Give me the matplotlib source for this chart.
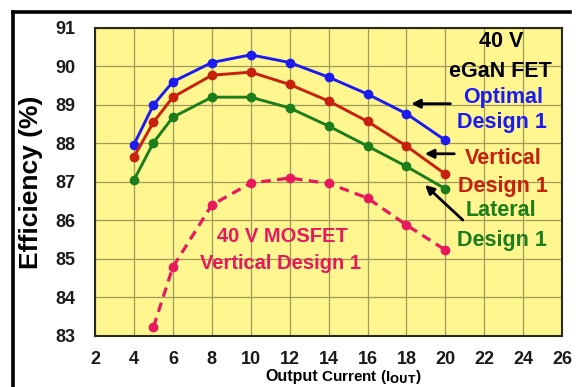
# efficiency vs output current, 40 V eGaN FET designs vs MOSFET
import matplotlib
matplotlib.use("Agg")
import matplotlib.pyplot as plt
from matplotlib.lines import Line2D

plt.rcParams["font.family"] = ["Liberation Sans", "DejaVu Sans"]
plt.rcParams["font.weight"] = "bold"

# ---------- data ----------
i_out = [4, 5, 6, 8, 10, 12, 14, 16, 18, 20]
eff_optimal = [87.97, 89.0, 89.6, 90.1, 90.3, 90.1, 89.72, 89.28, 88.77, 88.08]
eff_vertical = [87.65, 88.55, 89.2, 89.77, 89.85, 89.53, 89.1, 88.57, 87.93, 87.2]
eff_lateral = [87.05, 88.02, 88.68, 89.2, 89.2, 88.92, 88.45, 87.93, 87.4, 86.82]

i_mos = [5, 6, 8, 10, 12, 14, 16, 18, 20]
eff_mosfet = [83.23, 84.79, 86.4, 86.97, 87.1, 86.96, 86.58, 85.88, 85.23]

x_ticks = list(range(2, 27, 2))
y_ticks = list(range(83, 92))

BLUE = "#1c1cf0"
RED = "#c8200f"
GREEN = "#1b7d1b"
PINK = "#e8185f"

fig = plt.figure(figsize=(5.76, 3.87), dpi=100)
ax = fig.add_axes([0.165, 0.132, 0.811, 0.796])
ax.set_facecolor("#fff68f")

ax.plot(i_out, eff_optimal, color=BLUE, lw=2.1, marker="o", ms=6, zorder=4)
ax.plot(i_out, eff_vertical, color=RED, lw=2.1, marker="o", ms=6, zorder=4)
ax.plot(i_out, eff_lateral, color=GREEN, lw=2.1, marker="o", ms=6, zorder=4)
ax.plot(i_mos, eff_mosfet, color=PINK, lw=2.3, ls=(0, (3, 2)), marker="o",
        ms=6, zorder=4, clip_on=False)

ax.set_xlim(2, 26)
ax.set_ylim(83, 91)
ax.set_xticks(x_ticks)
ax.set_yticks(y_ticks)
ax.tick_params(length=0, labelsize=13, labelcolor="#1a1a1a")
ax.tick_params(axis="x", pad=11)
ax.tick_params(axis="y", pad=14)
for lab in ax.get_xticklabels() + ax.get_yticklabels():
    lab.set_fontweight("bold")
ax.grid(True, color="#9e9a5a", lw=0.9)
ax.set_axisbelow(True)
for s in ax.spines.values():
    s.set_linewidth(1.5)
    s.set_color("#2a2a1a")

ax.set_ylabel("Efficiency (%)", fontsize=19, fontweight="bold")
ax.yaxis.set_label_coords(-0.112, 0.5)

# x label with mixed sizes
fig.text(318 / 576, 1 - 377 / 387, "Output", fontsize=11.5, fontweight="bold",
         ha="right", va="center")
fig.text(321 / 576, 1 - 377 / 387, "Current (I$_{\\mathbf{OUT}}$)", fontsize=11,
         fontweight="bold", ha="left", va="center")

# annotations
big = 15.5
ax.text(22.85, 90.64, "40 V", fontsize=big, fontweight="bold", color="black", ha="center", va="center")
ax.text(22.85, 89.86, "eGaN FET", fontsize=big, fontweight="bold", color="black", ha="center", va="center")
ax.text(22.95, 89.2, "Optimal", fontsize=big, fontweight="bold", color=BLUE, ha="center", va="center")
ax.text(22.9, 88.55, "Design 1", fontsize=big, fontweight="bold", color=BLUE, ha="center", va="center")
ax.text(22.95, 87.6, "Vertical", fontsize=big, fontweight="bold", color=RED, ha="center", va="center")
ax.text(22.95, 86.88, "Design 1", fontsize=big, fontweight="bold", color=RED, ha="center", va="center")
ax.text(22.85, 86.25, "Lateral", fontsize=big, fontweight="bold", color=GREEN, ha="center", va="center")
ax.text(22.9, 85.48, "Design 1", fontsize=big, fontweight="bold", color=GREEN, ha="center", va="center")
ax.text(11.65, 85.57, "40 V MOSFET", fontsize=14.5, fontweight="bold", color=PINK, ha="center", va="center")
ax.text(11.55, 84.87, "Vertical Design 1", fontsize=14.5, fontweight="bold", color=PINK, ha="center", va="center")

arrow = dict(arrowstyle="-|>", color="black", lw=2.0, mutation_scale=13)
ax.annotate("", xy=(18.1, 89.03), xytext=(20.4, 89.03), arrowprops=arrow)
ax.annotate("", xy=(18.8, 87.73), xytext=(20.6, 87.73), arrowprops=arrow)
ax.annotate("", xy=(18.85, 86.97), xytext=(21.0, 85.96), arrowprops=arrow)

# outer frame (top and left edges only)
fig.add_artist(Line2D([13 / 576, 570 / 576], [1 - 12 / 387, 1 - 12 / 387],
                      color="black", lw=2.6, transform=fig.transFigure))
fig.add_artist(Line2D([13 / 576, 13 / 576], [0, 1 - 12 / 387],
                      color="black", lw=2.6, transform=fig.transFigure))

fig.savefig("out.png", dpi=100)
